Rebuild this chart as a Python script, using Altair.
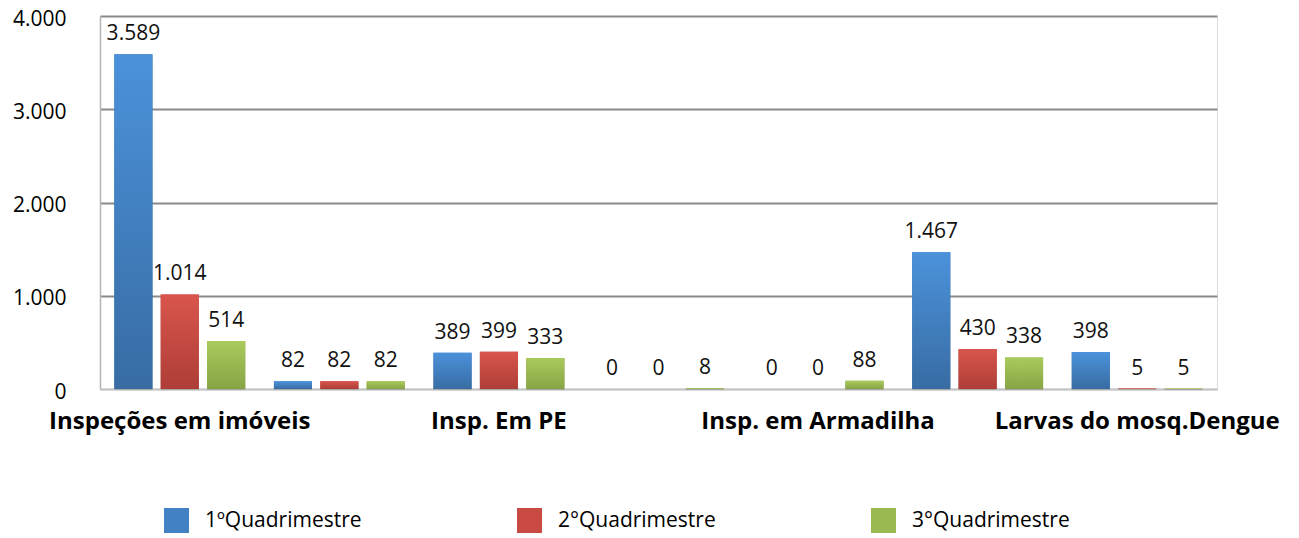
import altair as alt
import pandas as pd

categories = ["Inspeções em imóveis", "Categoria 2", "Insp. Em PE", "Categoria 4",
              "Insp. em Armadilha", "Categoria 6", "Larvas do mosq.Dengue"]
shown_labels = ["Inspeções em imóveis", "Insp. Em PE", "Insp. em Armadilha", "Larvas do mosq.Dengue"]
series = ["1ºQuadrimestre", "2°Quadrimestre", "3°Quadrimestre"]
q1 = [3589, 82, 389, 0, 0, 1467, 398]
q2 = [1014, 82, 399, 0, 0, 430, 5]
q3 = [514, 82, 333, 8, 88, 338, 5]
y_ticks = [0, 1000, 2000, 3000, 4000]

solid = ["#4281c4", "#c94a43", "#9aba51"]
tops = ["#4b92db", "#d9554c", "#aaca5c"]
bottoms = ["#386ca3", "#ad3e37", "#87a445"]

rows = []
for s, vals in zip(series, [q1, q2, q3]):
    for c, v in zip(categories, vals):
        rows.append({"cat": c, "series": s, "value": v})
df = pd.DataFrame(rows)

fmt = "replace(format(datum.value, ',d'), ',', '.')"
FONT = "Open Sans"

x_enc = alt.X("cat:N", sort=categories,
              scale=alt.Scale(paddingInner=0.18, paddingOuter=0.09),
              axis=alt.Axis(values=shown_labels, title=None, labelAngle=0,
                            labelFont=FONT, labelFontWeight="bold", labelFontSize=24,
                            labelColor="black", domainColor="#c4c4c4", domainWidth=1.5,
                            ticks=False, labelPadding=20, labelLimit=400, grid=False))
xo_enc = alt.XOffset("series:N", sort=series,
                     scale=alt.Scale(domain=series, paddingInner=0.18, paddingOuter=0))
y_enc = alt.Y("value:Q", scale=alt.Scale(domain=[0, 4000], nice=False),
              axis=alt.Axis(values=y_ticks, labelExpr=fmt, title=None,
                            grid=True,
                            gridColor={"condition": {"test": "datum.value === 0", "value": "#c4c4c4"}, "value": "#8a8a8a"},
                            gridWidth=2, domainColor="#b4b4b4", domainWidth=1.5,
                            ticks=False, labelPadding=34, labelOffset=3,
                            labelFont=FONT, labelFontSize=21, labelColor="black"))

base = alt.Chart(df)

shadow = base.mark_bar(color="#000000", opacity=0.3, xOffset=2.5, yOffset=0.5).encode(
    x=x_enc, xOffset=xo_enc, y=y_enc)

legend_bars = base.mark_bar().encode(
    x=x_enc, xOffset=xo_enc, y=y_enc,
    color=alt.Color("series:N", sort=series,
                    scale=alt.Scale(domain=series, range=solid),
                    legend=alt.Legend(title=None, orient="none", direction="horizontal",
                                      columns=3, legendX=64, legendY=492,
                                      symbolType="square", symbolSize=625,
                                      symbolStrokeWidth=0, labelFont=FONT,
                                      labelFontSize=21, labelColor="black",
                                      labelLimit=400,
                                      labelOffset=16, columnPadding=155, padding=0)))

grad_layers = []
for s, t, b in zip(series, tops, bottoms):
    g = alt.Gradient(gradient="linear",
                     stops=[alt.GradientStop(color=t, offset=0), alt.GradientStop(color=b, offset=1)],
                     x1=0, x2=0, y1=0, y2=1)
    grad_layers.append(
        base.transform_filter(alt.datum.series == s).mark_bar(color=g).encode(
            x=x_enc, xOffset=xo_enc, y=y_enc))

labels = base.mark_text(baseline="alphabetic", dy=-14, font=FONT, fontSize=21,
                        color="#111111").encode(
    x=x_enc, xOffset=xo_enc, y=y_enc,
    text=alt.Text("label:N")).transform_calculate(label=fmt)

chart = alt.layer(shadow, legend_bars, *grad_layers, labels).properties(
    width=1117, height=373,
    autosize=alt.AutoSizeParams(type="none"),
    padding={"left": 92, "top": 8, "right": 74, "bottom": 150},
).configure_view(stroke=None).configure(font=FONT)

chart.save("out.html", embed_options={"renderer": "svg", "actions": False})
